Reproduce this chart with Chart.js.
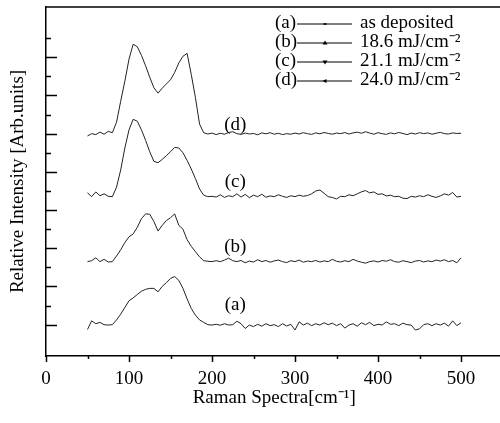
<!DOCTYPE html>
<html>
<head>
<meta charset="utf-8">
<script src="https://cdn.jsdelivr.net/npm/chart.js@4.4.1/dist/chart.umd.min.js"></script>
<style>
  html, body { margin: 0; padding: 0; background: #fff; overflow: hidden; }
  #wrap { position: relative; width: 504px; height: 423px; }
</style>
</head>
<body>
<div id="wrap"><canvas id="chart"></canvas></div>
<script>
// Raman shift (cm-1)
const ramanShift = [
  50, 55, 60, 65, 70, 75, 80, 85, 90, 95, 100, 105, 110, 115, 120, 125, 130, 135, 140, 145,
  150, 155, 160, 165, 170, 175, 180, 185, 190, 195, 200, 205, 210, 215, 220, 225, 230, 235, 240, 245,
  250, 255, 260, 265, 270, 275, 280, 285, 290, 295, 300, 305, 310, 315, 320, 325, 330, 335, 340, 345,
  350, 355, 360, 365, 370, 375, 380, 385, 390, 395, 400, 405, 410, 415, 420, 425, 430, 435, 440, 445,
  450, 455, 460, 465, 470, 475, 480, 485, 490, 495, 500
];

// intensities, already offset for stacking
const asDeposited = [
  0.75, 1.2, 1.05, 1.12, 1.0, 0.98, 1.0, 1.25, 1.55, 1.9, 2.25, 2.4, 2.58, 2.75, 2.85, 2.9, 2.9, 2.72, 3.0, 3.2,
  3.42, 3.52, 3.32, 2.9, 2.35, 1.85, 1.5, 1.25, 1.12, 1.0, 0.98, 1.02, 0.97, 1.05, 0.98, 1.0, 1.18, 1.05, 0.8, 0.98,
  0.9, 1.02, 0.92, 1.05, 0.95, 1.0, 0.9, 1.05, 0.93, 1.02, 0.72, 1.15, 0.98, 1.08, 0.95, 1.05, 0.98, 1.1, 1.0, 1.08,
  0.95, 1.05, 0.82, 0.98, 1.05, 0.92, 1.1, 1.0, 1.12, 0.95, 1.02, 0.98, 1.15, 1.02, 1.05, 0.95, 1.08, 1.0, 0.98, 0.72,
  0.78, 1.0, 1.05, 0.95, 1.05, 0.98, 1.08, 0.92, 1.2, 0.95, 1.1
];
const fluence186 = [
  4.3, 4.35, 4.5, 4.3, 4.42, 4.28, 4.3, 4.6, 4.92, 5.3, 5.6, 5.75, 6.1, 6.55, 6.8, 6.78, 6.4, 5.9, 6.2, 6.45,
  6.6, 6.8, 6.2, 6.0, 5.45, 5.1, 4.82, 4.55, 4.35, 4.32, 4.3, 4.35, 4.3, 4.38, 4.48, 4.35, 4.3, 4.36, 4.24, 4.33,
  4.28, 4.4, 4.3, 4.36, 4.27, 4.34, 4.38, 4.3, 4.25, 4.35, 4.3, 4.38, 4.27, 4.33, 4.3, 4.36, 4.28, 4.34, 4.3, 4.42,
  4.32, 4.28, 4.35, 4.3, 4.42, 4.33, 4.27, 4.22, 4.3, 4.34, 4.28, 4.36, 4.32, 4.4, 4.3, 4.27, 4.35, 4.3, 4.25, 4.33,
  4.36, 4.28, 4.34, 4.3, 4.38, 4.33, 4.4, 4.3, 4.36, 4.24, 4.5
];
const fluence211 = [
  7.9, 7.7, 7.95, 7.75, 7.85, 7.72, 7.7, 8.2, 9.1, 10.25, 11.2, 11.75, 11.65, 11.2, 10.65, 10.05, 9.55, 9.48, 9.65, 9.85,
  10.05, 10.28, 10.25, 10.0, 9.6, 9.15, 8.65, 8.1, 7.78, 7.7, 7.72, 7.68, 7.8, 7.66, 7.75, 7.7, 7.85, 7.68, 7.82, 7.65,
  7.78, 7.7, 7.83, 7.67, 7.74, 7.7, 7.8, 7.72, 7.66, 7.75, 7.7, 7.78, 7.72, 7.76, 7.85, 8.0, 8.05, 7.88, 7.7, 7.66,
  7.58, 7.72, 7.7, 7.8, 7.75, 7.85, 7.95, 8.02, 7.9, 7.95, 7.82, 7.85, 7.74, 7.78, 7.7, 7.72, 7.62, 7.6, 7.72, 7.68,
  7.75, 7.7, 7.8, 7.72, 7.66, 7.74, 7.85, 7.78, 7.92, 7.68, 7.72
];
const fluence240 = [
  10.88, 11.0, 10.95, 11.08, 10.97, 11.12, 11.05, 11.6, 12.7, 13.75, 14.9, 15.68, 15.55, 15.1, 14.55, 13.95, 13.4, 13.12, 13.38, 13.6,
  13.82, 14.2, 14.7, 15.05, 15.2, 14.1, 12.9, 11.5, 11.05, 10.98, 11.03, 10.95, 11.02, 10.97, 11.06, 11.1, 11.0, 10.96, 11.03, 10.98,
  11.01, 10.94, 11.04, 10.99, 11.05, 10.97, 11.02, 10.95, 11.0, 10.97, 11.03, 10.98, 11.05, 11.0, 10.96, 11.04, 10.99, 11.06, 11.01, 10.97,
  11.03, 11.0, 11.06, 10.98, 11.04, 11.08, 11.02, 11.1, 11.03, 10.97, 11.05, 11.0, 10.96, 11.04, 10.99, 11.06, 11.01, 10.95, 11.03, 10.98,
  11.05, 11.0, 11.04, 10.97, 11.02, 11.07, 11.0, 10.98, 11.04, 11.01, 11.02
];

const seriesTags = ['(a)', '(b)', '(c)', '(d)'];
const seriesNames = ['as deposited', '18.6 mJ/cm⁻²', '21.1 mJ/cm⁻²', '24.0 mJ/cm⁻²'];
const seriesMarkers = ['dash', 'up', 'down', 'left'];
// where the (a)..(d) tags sit next to each trace, in data units
const tagX = [228, 228, 228, 228];
const tagY = [2.03, 5.08, 8.48, 11.45];

const serif = "'Liberation Serif', 'Times New Roman', serif";

const toPoints = ys => ys.map((v, i) => ({ x: ramanShift[i], y: v }));

const drawMarker = (ctx, kind, cx, cy) => {
  ctx.beginPath();
  if (kind === 'dash') {
    ctx.fillRect(cx - 1.5, cy - 0.8, 3, 1.6);
    return;
  }
  if (kind === 'up') { ctx.moveTo(cx, cy - 2.5); ctx.lineTo(cx + 2.5, cy + 1.5); ctx.lineTo(cx - 2.5, cy + 1.5); }
  if (kind === 'down') { ctx.moveTo(cx, cy + 2.5); ctx.lineTo(cx + 2.5, cy - 1.5); ctx.lineTo(cx - 2.5, cy - 1.5); }
  if (kind === 'left') { ctx.moveTo(cx - 2.5, cy); ctx.lineTo(cx + 1.5, cy - 2); ctx.lineTo(cx + 1.5, cy + 2); }
  ctx.closePath();
  ctx.fill();
};

const frameAndLegend = {
  id: 'frameAndLegend',
  afterDraw(chart) {
    const { ctx, chartArea: area, scales: { x, y } } = chart;
    ctx.save();
    ctx.strokeStyle = '#000';
    ctx.fillStyle = '#000';

    // top frame line
    ctx.lineWidth = 1.5;
    ctx.beginPath();
    ctx.moveTo(area.left, area.top);
    ctx.lineTo(area.right, area.top);
    ctx.stroke();

    // y ticks point inward, long/short alternating
    y.ticks.forEach(t => {
      const py = Math.round(y.getPixelForValue(t.value)) + 0.5;
      const len = t.value % 2 ? 11 : 5;
      ctx.beginPath();
      ctx.moveTo(area.left, py);
      ctx.lineTo(area.left + len, py);
      ctx.stroke();
    });

    // x ticks point outward
    x.ticks.forEach(t => {
      const px = Math.round(x.getPixelForValue(t.value)) + 0.5;
      const len = t.value % 100 ? 3 : 6;
      ctx.beginPath();
      ctx.moveTo(px, area.bottom);
      ctx.lineTo(px, area.bottom + len);
      ctx.stroke();
    });

    // labels beside the traces
    ctx.font = '19px ' + serif;
    ctx.textAlign = 'center';
    ctx.textBaseline = 'middle';
    seriesTags.forEach((tag, i) => {
      ctx.fillText(tag, x.getPixelForValue(tagX[i]), y.getPixelForValue(tagY[i]));
    });

    // legend block, top right
    const lx = 275, ly = 23.5, row = 19;
    ctx.lineWidth = 1;
    seriesTags.forEach((tag, i) => {
      const cy = ly + i * row;
      ctx.textAlign = 'left';
      ctx.fillText(tag, lx, cy);
      ctx.beginPath();
      ctx.moveTo(lx + 22, cy + 0.5);
      ctx.lineTo(lx + 77, cy + 0.5);
      ctx.stroke();
      drawMarker(ctx, seriesMarkers[i], lx + 50, cy + 0.5);
      ctx.fillText(seriesNames[i], lx + 85, cy);
    });
    ctx.restore();
  }
};

const lineStyle = { borderColor: '#222', borderWidth: 1, pointRadius: 0, fill: false, tension: 0 };

new Chart(document.getElementById('chart'), {
  type: 'line',
  data: {
    datasets: [
      { label: seriesNames[0], data: toPoints(asDeposited), ...lineStyle },
      { label: seriesNames[1], data: toPoints(fluence186), ...lineStyle },
      { label: seriesNames[2], data: toPoints(fluence211), ...lineStyle },
      { label: seriesNames[3], data: toPoints(fluence240), ...lineStyle }
    ]
  },
  options: {
    responsive: true,
    maintainAspectRatio: false,
    animation: false,
    layout: { padding: { top: 7, right: 1.5, left: 0, bottom: 0 } },
    plugins: {
      legend: { display: false },
      tooltip: { enabled: false }
    },
    scales: {
      x: {
        type: 'linear',
        min: 0,
        max: 550,
        grid: { display: false, drawTicks: false },
        border: { display: true, color: '#000', width: 1.5 },
        ticks: {
          stepSize: 50,
          autoSkip: false,
          maxRotation: 0,
          padding: 12,
          color: '#000',
          font: { family: serif, size: 19 },
          callback: v => (v % 100 === 0 && v <= 500 ? String(v) : '')
        },
        title: {
          display: true,
          text: 'Raman Spectra[cm⁻¹]',
          color: '#000',
          font: { family: serif, size: 19 },
          padding: { top: 4, bottom: 13.5 }
        },
        afterFit: s => { s.height = 67; s.paddingRight = 0; s.paddingLeft = 0; }
      },
      y: {
        type: 'linear',
        min: -0.64,
        max: 17.63,
        grid: { display: false, drawTicks: false },
        border: { display: true, color: '#000', width: 1.5 },
        ticks: { display: false, stepSize: 1 },
        afterBuildTicks: s => { s.ticks = s.ticks.filter(t => Number.isInteger(t.value)); },
        title: {
          display: true,
          text: 'Relative Intensity [Arb.units]',
          color: '#000',
          font: { family: serif, size: 19 },
          padding: { top: 7 }
        },
        afterFit: s => { s.width = 46; }
      }
    }
  },
  plugins: [frameAndLegend]
});
</script>
</body>
</html>
